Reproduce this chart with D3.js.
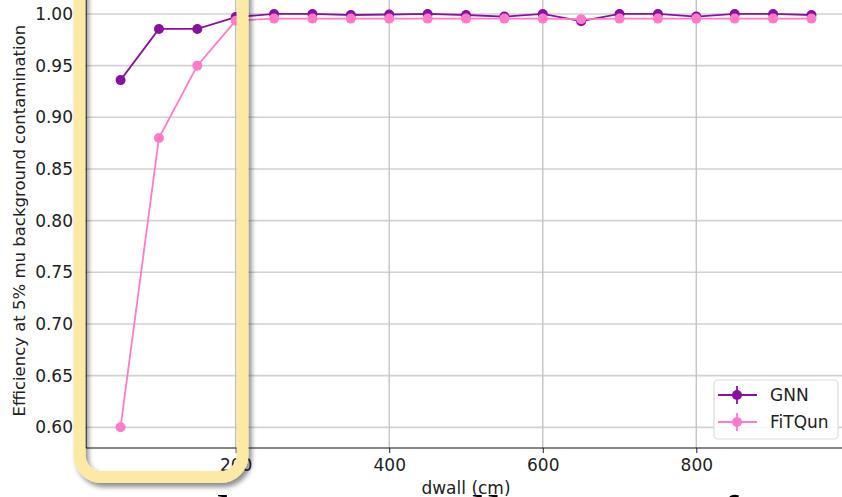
<!DOCTYPE html>
<html>
<head>
<meta charset="utf-8">
<script src="https://cdn.jsdelivr.net/npm/d3@7"></script>
<style>
  html, body { margin: 0; padding: 0; background: #fff; overflow: hidden; }
  svg { display: block; font-family: "DejaVu Sans", sans-serif; }
</style>
</head>
<body>
<svg id="chart" width="842" height="497"></svg>
<script>
// ---- data ----
const dwall = [50, 100, 150, 200, 250, 300, 350, 400, 450, 500, 550, 600, 650, 700, 750, 800, 850, 900, 950];
const gnn = [0.936, 0.9855, 0.9855, 0.997, 1.000, 1.000, 0.999, 0.9995, 1.000, 0.999, 0.9975, 1.000, 0.993, 1.000, 1.000, 0.9975, 1.000, 1.000, 0.999];
const fitqun = [0.600, 0.880, 0.950, 0.9935, 0.9955, 0.9955, 0.9955, 0.9955, 0.9955, 0.9955, 0.9955, 0.9955, 0.995, 0.9955, 0.9955, 0.9955, 0.9955, 0.9955, 0.9955];
const xTicks = [200, 400, 600, 800];
const yTicks = [0.60, 0.65, 0.70, 0.75, 0.80, 0.85, 0.90, 0.95, 1.00];
const seriesNames = ["GNN", "FiTQun"];
const seriesColors = ["#8a10a2", "#ff7ac8"];
const xLabel = "dwall (cm)";
const yLabel = "Efficiency at 5% mu background contamination";
const captionWords = [["In", 28], ["and", 150], ["to", 240], ["all", 447], ["of", 692]];

// ---- layout ----
const svg = d3.select("#chart");
const L = 86, R = 846, T = -6.7, B = 448;
const x = d3.scaleLinear().domain([5, 995]).range([L, R]);
const y = d3.scaleLinear().domain([0.58, 1.02]).range([B, T]);

const defs = svg.append("defs");
defs.append("clipPath").attr("id", "plotclip")
  .append("rect").attr("x", L).attr("y", T).attr("width", R - L).attr("height", B - T);
const f = defs.append("filter").attr("id", "shadow").attr("x", "-20%").attr("y", "-20%").attr("width", "140%").attr("height", "140%");
f.append("feDropShadow").attr("dx", 3).attr("dy", 4).attr("stdDeviation", 2.5)
  .attr("flood-color", "#000").attr("flood-opacity", 0.45);

// grid
const grid = svg.append("g").attr("clip-path", "url(#plotclip)");
grid.selectAll("line.h").data(yTicks).join("line")
  .attr("x1", L).attr("x2", R).attr("y1", d => y(d)).attr("y2", d => y(d))
  .attr("stroke", "#d2d2d2").attr("stroke-width", 1.6);
grid.selectAll("line.v").data(xTicks).join("line")
  .attr("x1", d => x(d)).attr("x2", d => x(d)).attr("y1", T).attr("y2", B)
  .attr("stroke", "#c4c4c4").attr("stroke-width", 1.4);

// axes
const xAxis = d3.axisBottom(x).tickValues(xTicks).tickSize(5).tickPadding(6).tickFormat(d3.format("d"));
const gx = svg.append("g").attr("transform", `translate(0,${B})`).call(xAxis);
gx.select(".domain").remove();
gx.selectAll("line").attr("stroke", "#222");
gx.selectAll("text").attr("font-size", 17).attr("fill", "#222").attr("font-family", "DejaVu Sans");

const yAxis = d3.axisLeft(y).tickValues(yTicks).tickSize(5).tickPadding(8).tickFormat(d3.format(".2f"));
const gy = svg.append("g").attr("transform", `translate(${L},0)`).call(yAxis);
gy.select(".domain").remove();
gy.selectAll("line").attr("stroke", "#222");
gy.selectAll("text").attr("font-size", 17).attr("fill", "#222").attr("font-family", "DejaVu Sans");

// spines
svg.append("line").attr("x1", L).attr("x2", R).attr("y1", B).attr("y2", B).attr("stroke", "#111").attr("stroke-width", 1.2);
svg.append("line").attr("x1", L).attr("x2", L).attr("y1", T).attr("y2", B).attr("stroke", "#111").attr("stroke-width", 1.2);

// caption text below (mostly outside the window, drawn first so the axis label sits above it)
const cap = svg.append("text").attr("y", 535).attr("font-family", "Liberation Serif")
  .attr("font-size", 56).attr("fill", "#000");
captionWords.forEach(([w, px]) => cap.append("tspan").attr("x", px).text(w));

// labels
svg.append("text").attr("x", (L + R) / 2).attr("y", 494)
  .attr("text-anchor", "middle").attr("font-size", 17).attr("fill", "#222").text(xLabel);
svg.append("text").attr("transform", `translate(25,${(T + B) / 2}) rotate(-90)`)
  .attr("text-anchor", "middle").attr("font-size", 16.5).attr("fill", "#222").text(yLabel);

// series
const series = [gnn, fitqun];
const line = d3.line().x((d, i) => x(dwall[i])).y(d => y(d));
const plot = svg.append("g");
series.forEach((vals, k) => {
  const g = plot.append("g");
  g.append("path").datum(vals).attr("d", line)
    .attr("fill", "none").attr("stroke", seriesColors[k]).attr("stroke-width", 1.8);
  g.selectAll("circle").data(vals).join("circle")
    .attr("cx", (d, i) => x(dwall[i])).attr("cy", d => y(d)).attr("r", 5)
    .attr("fill", seriesColors[k]);
});

// legend
const lg = svg.append("g");
lg.append("rect").attr("x", 714).attr("y", 380).attr("width", 124).attr("height", 59).attr("rx", 4)
  .attr("fill", "#fff").attr("fill-opacity", 0.85).attr("stroke", "#dcdcdc").attr("stroke-width", 1.2);
seriesNames.forEach((name, k) => {
  const cy = 395 + k * 27;
  lg.append("line").attr("x1", 718).attr("x2", 757).attr("y1", cy).attr("y2", cy)
    .attr("stroke", seriesColors[k]).attr("stroke-width", 1.8);
  lg.append("line").attr("x1", 737).attr("x2", 737).attr("y1", cy - 9).attr("y2", cy + 9)
    .attr("stroke", seriesColors[k]).attr("stroke-width", 1.8);
  lg.append("circle").attr("cx", 737).attr("cy", cy).attr("r", 5).attr("fill", seriesColors[k]);
  lg.append("text").attr("x", 770).attr("y", cy).attr("dy", "0.36em")
    .attr("font-size", 17).attr("fill", "#222").text(name);
});

// highlight box overlay
svg.append("rect").attr("x", 79.5).attr("y", -40).attr("width", 163).attr("height", 517).attr("rx", 22)
  .attr("fill", "none").attr("stroke", "#fde9a6").attr("stroke-width", 12).attr("filter", "url(#shadow)");
</script>
</body>
</html>
